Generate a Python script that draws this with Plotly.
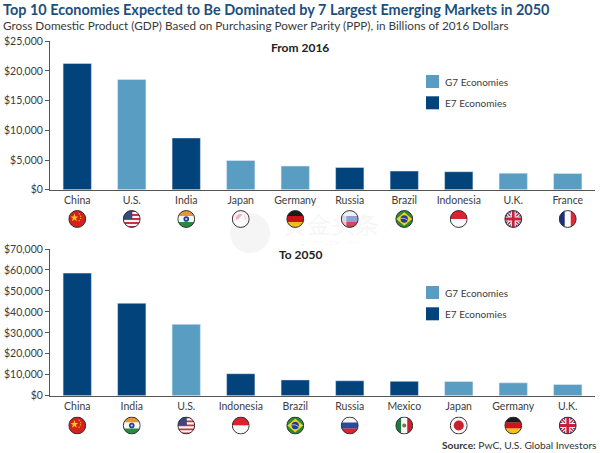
import base64
import plotly.graph_objects as go

countries_2016 = ["China", "U.S.", "India", "Japan", "Germany", "Russia", "Brazil", "Indonesia", "U.K.", "France"]
gdp_2016 = [21270, 18560, 8720, 4930, 3980, 3750, 3140, 3030, 2790, 2740]
group_2016 = ["E7", "G7", "E7", "G7", "G7", "E7", "E7", "E7", "G7", "G7"]
countries_2050 = ["China", "India", "U.S.", "Indonesia", "Brazil", "Russia", "Mexico", "Japan", "Germany", "U.K."]
gdp_2050 = [58500, 44130, 34100, 10500, 7540, 7130, 6860, 6780, 6140, 5370]
group_2050 = ["E7", "E7", "G7", "E7", "E7", "E7", "E7", "G7", "G7", "G7"]
ticks_2016 = [0, 5000, 10000, 15000, 20000, 25000]
ticks_2050 = [0, 10000, 20000, 30000, 40000, 50000, 60000, 70000]

COLORS = {"G7": "#5a9dc2", "E7": "#03437c"}
W, H = 600, 453
FONT = "Lato"
TXT = "#3c3c3c"
WM = "rgba(0,0,0,0.04)"


def flag_body(name, washed=False):
    stripes = lambda cols: "".join(
        f'<rect x="0" y="{i*32/len(cols)}" width="32" height="{32/len(cols)+.3}" fill="{c}"/>' for i, c in enumerate(cols))
    vstripes = lambda cols: "".join(
        f'<rect y="0" x="{i*32/len(cols)}" height="32" width="{32/len(cols)+.3}" fill="{c}"/>' for i, c in enumerate(cols))
    if name == "China":
        return ('<rect width="32" height="32" fill="#d4201f"/>'
                '<polygon points="11,6 12.8,11.4 18,11.4 13.8,14.6 15.4,20 11,16.8 6.6,20 8.2,14.6 4,11.4 9.2,11.4" fill="#f5c518"/>'
                '<circle cx="19.5" cy="7" r="1.2" fill="#f5c518"/><circle cx="22" cy="11" r="1.2" fill="#f5c518"/>'
                '<circle cx="22" cy="15" r="1.2" fill="#f5c518"/><circle cx="19.5" cy="19" r="1.2" fill="#f5c518"/>')
    if name == "U.S.":
        s = "".join(f'<rect y="{i*32/9}" width="32" height="{32/9}" fill="{"#c9323f" if i % 2 == 0 else "#f4f4f4"}"/>' for i in range(9))
        return s + '<rect width="17" height="16" fill="#39487f"/>'
    if name == "India":
        return (stripes(["#e8963a", "#f7f7f7", "#2a8a43"]) +
                '<circle cx="16" cy="16" r="5" fill="#24408e"/><circle cx="16" cy="16" r="2" fill="#c9d4e8"/>')
    if name == "Japan":
        if washed:
            return '<rect width="32" height="32" fill="#f7f2f2"/><circle cx="16" cy="16" r="9" fill="#f0b4bd"/><path d="M4,20 Q14,16 20,6 L30,30 L6,30 Z" fill="#fafafa"/>'
        return '<rect width="32" height="32" fill="#f7f7f7"/><circle cx="16" cy="16" r="9" fill="#c8202f"/>'
    if name == "Germany":
        return stripes(["#1a1a1a", "#d0121b", "#f3c220"])
    if name == "Russia":
        if washed:
            return stripes(["#eef0f5", "#8fa3d0", "#d04a55"]) + '<rect x="0" width="10" height="32" fill="#f3f3f3" opacity=".75"/>'
        return stripes(["#f5f5f5", "#2b4a9b", "#d32630"])
    if name == "Brazil":
        return ('<rect width="32" height="32" fill="#2d8a35"/><polygon points="16,4 30,16 16,28 2,16" fill="#f5d320"/>'
                '<circle cx="16" cy="16" r="6.5" fill="#26408f"/><path d="M10,15 Q16,13 22,18" stroke="#eee" stroke-width="1.2" fill="none"/>')
    if name == "Indonesia":
        return stripes(["#dc2230", "#f9f9f9"])
    if name == "U.K.":
        return ('<rect width="32" height="32" fill="#2a3d80"/>'
                '<path d="M0,0 L32,32 M32,0 L0,32" stroke="#f5f5f5" stroke-width="6"/>'
                '<path d="M0,0 L32,32 M32,0 L0,32" stroke="#c9203a" stroke-width="2.2"/>'
                '<path d="M16,0 V32 M0,16 H32" stroke="#f5f5f5" stroke-width="9"/>'
                '<path d="M16,0 V32 M0,16 H32" stroke="#c9203a" stroke-width="5"/>')
    if name == "France":
        return vstripes(["#1e2f78", "#fbfbfb", "#dc2a36"])
    if name == "Mexico":
        return (vstripes(["#1c7a45", "#f7f7f7", "#c8202f"]) +
                '<circle cx="16" cy="16" r="3.6" fill="#8a6a45"/>')
    return ""


def flag_uri(name, washed=False):
    svg = ('<svg xmlns="http://www.w3.org/2000/svg" width="64" height="64" viewBox="0 0 32 32">'
           '<defs><clipPath id="c"><circle cx="16" cy="16" r="15"/></clipPath></defs>'
           f'<g clip-path="url(#c)">{flag_body(name, washed)}</g>'
           '<circle cx="16" cy="16" r="15" fill="none" stroke="#2a2a2a" stroke-width="1.7"/></svg>')
    return "data:image/svg+xml;base64," + base64.b64encode(svg.encode()).decode()


def py(px):
    return 1 - px / H


X0, X1 = 50 / W, 595 / W
P1 = (41.3, 189.7)
P2 = (249.0, 395.7)

fig = go.Figure()
fig.add_trace(go.Bar(x=countries_2016, y=gdp_2016, marker_color=[COLORS[g] for g in group_2016],
                     width=0.52, xaxis="x", yaxis="y", showlegend=False))
fig.add_trace(go.Bar(x=countries_2050, y=gdp_2050, marker_color=[COLORS[g] for g in group_2050],
                     width=0.52, xaxis="x2", yaxis="y2", showlegend=False))


def xax(domain_anchor):
    return dict(domain=[X0, X1], anchor=domain_anchor, type="category", range=[-0.5, 9.5], automargin=False,
                showline=True, linecolor="#555555", linewidth=1.2, ticks="", showgrid=False,
                tickfont=dict(family=FONT, size=10.5, color=TXT), ticklabelstandoff=1, fixedrange=True)


def yax(domain_anchor, p, top, vals):
    return dict(domain=[py(p[1]), py(p[0])], anchor=domain_anchor, range=[0, top], tickmode="array", automargin=False,
                tickvals=vals, ticktext=[f"${v:,}" for v in vals], showline=True, linecolor="#555555",
                linewidth=1, ticks="outside", ticklen=4, tickcolor="#555555", showgrid=False, zeroline=False,
                tickfont=dict(family=FONT, size=10.5, color=TXT), fixedrange=True)


shapes, annotations, images = [], [], []


def text(x, y, s, size, color=TXT, bold=False, anchor="left"):
    annotations.append(dict(x=x / W, y=py(y), xref="paper", yref="paper", text=f"<b>{s}</b>" if bold else s,
                            showarrow=False, xanchor=anchor, yanchor="middle", borderpad=0, borderwidth=0,
                            font=dict(family=FONT, size=size, color=color)))


# watermark, behind everything
shapes.append(dict(type="circle", xref="paper", yref="paper", layer="below", x0=230 / W, x1=270 / W,
                   y0=py(253), y1=py(213), fillcolor="#f5f5f5", line_width=0))
text(330, 223, "黄金头条", 24, WM, True, "center")
text(330, 242, "goldtoutiao.com", 8, WM, True, "center")

text(3, 9.5, "Top 10 Economies Expected to Be Dominated by 7 Largest Emerging Markets in 2050", 14.45, "#1d4f7c", True)
text(3, 25.2, "Gross Domestic Product (GDP) Based on Purchasing Power Parity (PPP), in Billions of 2016 Dollars", 11.75, "#3a3a3a")
text(300, 47.5, "From 2016", 12, "#222222", True, "center")
text(300, 254.5, "To 2050", 12, "#222222", True, "center")
text(597, 445, "<b>Source:</b> PwC, U.S. Global Investors", 10.2, "#333333", False, "right")

for y0 in (75, 286):
    for k, (g, lab) in enumerate([("G7", "G7 Economies"), ("E7", "E7 Economies")]):
        top = y0 + k * 21.3
        shapes.append(dict(type="rect", xref="paper", yref="paper", x0=426 / W, x1=439 / W,
                           y0=py(top + 13), y1=py(top), fillcolor=COLORS[g], line_width=0))
        text(444.5, top + 7, lab, 10, TXT)

for names, axis, cy, washed in ((countries_2016, "x", 219, {"Japan", "Russia"}), (countries_2050, "x2", 425.5, set())):
    for i, n in enumerate(names):
        images.append(dict(source=flag_uri(n, n in washed), xref=f"{axis} domain", yref="paper",
                           x=(i + 0.5) / 10, y=py(cy), sizex=18 / 545, sizey=18 / H,
                           xanchor="center", yanchor="middle", sizing="contain", layer="above"))

fig.update_layout(
    width=W, height=H, margin=dict(l=0, r=0, t=0, b=0, autoexpand=False), autosize=False,
    paper_bgcolor="white", plot_bgcolor="rgba(0,0,0,0)", bargap=0.48,
    xaxis=xax("y"), xaxis2=xax("y2"),
    yaxis=yax("x", P1, 25000, ticks_2016), yaxis2=yax("x2", P2, 70000, ticks_2050),
    shapes=shapes, annotations=annotations, images=images,
)
fig.write_html("out.html", config={"displayModeBar": False},
               post_script="document.body.style.margin='0';")
